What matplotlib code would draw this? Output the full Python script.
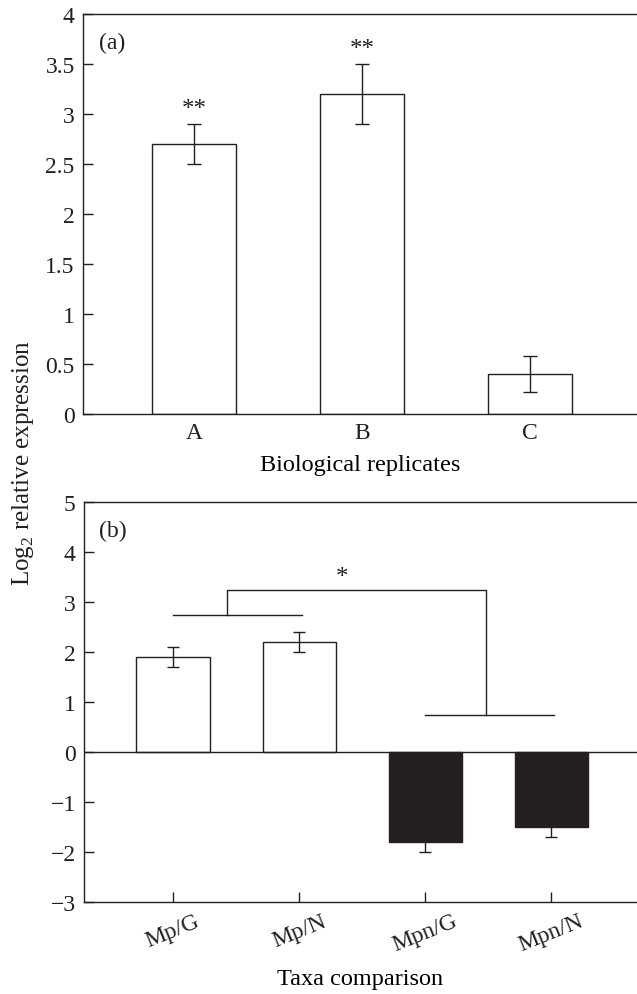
import matplotlib
matplotlib.use("Agg")
import matplotlib.pyplot as plt
import numpy as np

# ---- data ----
rep_labels = ["A", "B", "C"]
rep_values = [2.7, 3.2, 0.4]
rep_errors = [0.2, 0.3, 0.18]
rep_marks = ["**", "**", ""]

taxa_labels = ["Mp/G", "Mp/N", "Mpn/G", "Mpn/N"]
taxa_values = [1.9, 2.2, -1.8, -1.5]
taxa_errors = [0.2, 0.2, 0.2, 0.2]

# bracket (x in bar index units, y in data units)
left_bracket_x = [0.0, 1.02]
left_bracket_y = 2.75
right_bracket_x = [2.0, 3.02]
right_bracket_y = 0.75
top_bracket_y = 3.25
top_bracket_x = [0.43, 2.48]
star_xy = (1.34, 3.5)

ink = "#231f20"
plt.rcParams["font.family"] = ["Liberation Serif", "DejaVu Serif"]
plt.rcParams["font.size"] = 17
plt.rcParams["axes.linewidth"] = 1.0
plt.rcParams["text.color"] = ink
plt.rcParams["axes.edgecolor"] = ink
plt.rcParams["xtick.color"] = ink
plt.rcParams["ytick.color"] = ink
plt.rcParams["mathtext.fontset"] = "custom"
plt.rcParams["mathtext.rm"] = "Liberation Serif"

fig = plt.figure(figsize=(6.37, 9.95), dpi=100)
ax1 = fig.add_axes([83/637, 1-415/995, 1-83/637, 400/995])
ax2 = fig.add_axes([84/637, 1-903/995, 1-84/637, 400/995])

def style(ax):
    ax.spines["right"].set_visible(False)
    ax.tick_params(direction="in", length=7, width=1.0, labelsize=17,
                   top=False, right=False, pad=6)

# ---- panel (a) ----
x1 = np.arange(len(rep_labels))
ax1.bar(x1, rep_values, width=0.5, color="white", edgecolor=ink, linewidth=1.0, zorder=2)
ax1.errorbar(x1, rep_values, yerr=rep_errors, fmt="none", ecolor=ink,
             elinewidth=1.0, capsize=5, capthick=1.0, zorder=3)
for xi, v, e, m in zip(x1, rep_values, rep_errors, rep_marks):
    if m:
        ax1.text(xi, v + e + 0.04, m, ha="center", va="bottom", fontsize=18)
ax1.set_xlim(-0.66, 2.637)
ax1.set_ylim(0, 4)
ax1.set_yticks(np.arange(0, 4.01, 0.5))
ax1.set_yticklabels(["0", "0.5", "1", "1.5", "2", "2.5", "3", "3.5", "4"])
ax1.set_xticks(x1)
ax1.set_xticklabels(rep_labels)
ax1.set_xlabel("Biological replicates", fontsize=17.5, labelpad=8)
ax1.text(0.028, 0.93, "(a)", transform=ax1.transAxes, ha="left", va="center", fontsize=17)
style(ax1)

# ---- panel (b) ----
x2 = np.arange(len(taxa_labels))
colors = ["white" if v >= 0 else ink for v in taxa_values]
ax2.bar(x2, taxa_values, width=0.58, color=colors, edgecolor=ink, linewidth=1.0, zorder=2)
ax2.errorbar(x2, taxa_values, yerr=taxa_errors, fmt="none", ecolor=ink,
             elinewidth=1.0, capsize=4.5, capthick=1.0, zorder=3)
ax2.axhline(0, color=ink, linewidth=1.0, zorder=4)
ax2.plot(left_bracket_x, [left_bracket_y]*2, color=ink, lw=1.0)
ax2.plot(right_bracket_x, [right_bracket_y]*2, color=ink, lw=1.0)
ax2.plot([top_bracket_x[0], top_bracket_x[0], top_bracket_x[1], top_bracket_x[1]],
         [left_bracket_y, top_bracket_y, top_bracket_y, right_bracket_y], color=ink, lw=1.0)
ax2.text(star_xy[0], star_xy[1], "*", ha="center", va="center", fontsize=18)
ax2.set_xlim(-0.706, 3.68)
ax2.set_ylim(-3, 5)
ax2.set_yticks(np.arange(-3, 6, 1))
ax2.set_yticklabels(["\u22123", "\u22122", "\u22121", "0", "1", "2", "3", "4", "5"])
ax2.set_xticks(x2)
ax2.set_xticklabels(taxa_labels, rotation=22, ha="center", rotation_mode="default")
ax2.set_xlabel("Taxa comparison", fontsize=17.5, labelpad=9)
ax2.text(0.028, 0.93, "(b)", transform=ax2.transAxes, ha="left", va="center", fontsize=17)
style(ax2)

fig.text(23/637, 1-463/995, r"Log$_2$ relative expression", rotation=90,
         ha="center", va="center", fontsize=18)

fig.savefig("out.png", dpi=100)
